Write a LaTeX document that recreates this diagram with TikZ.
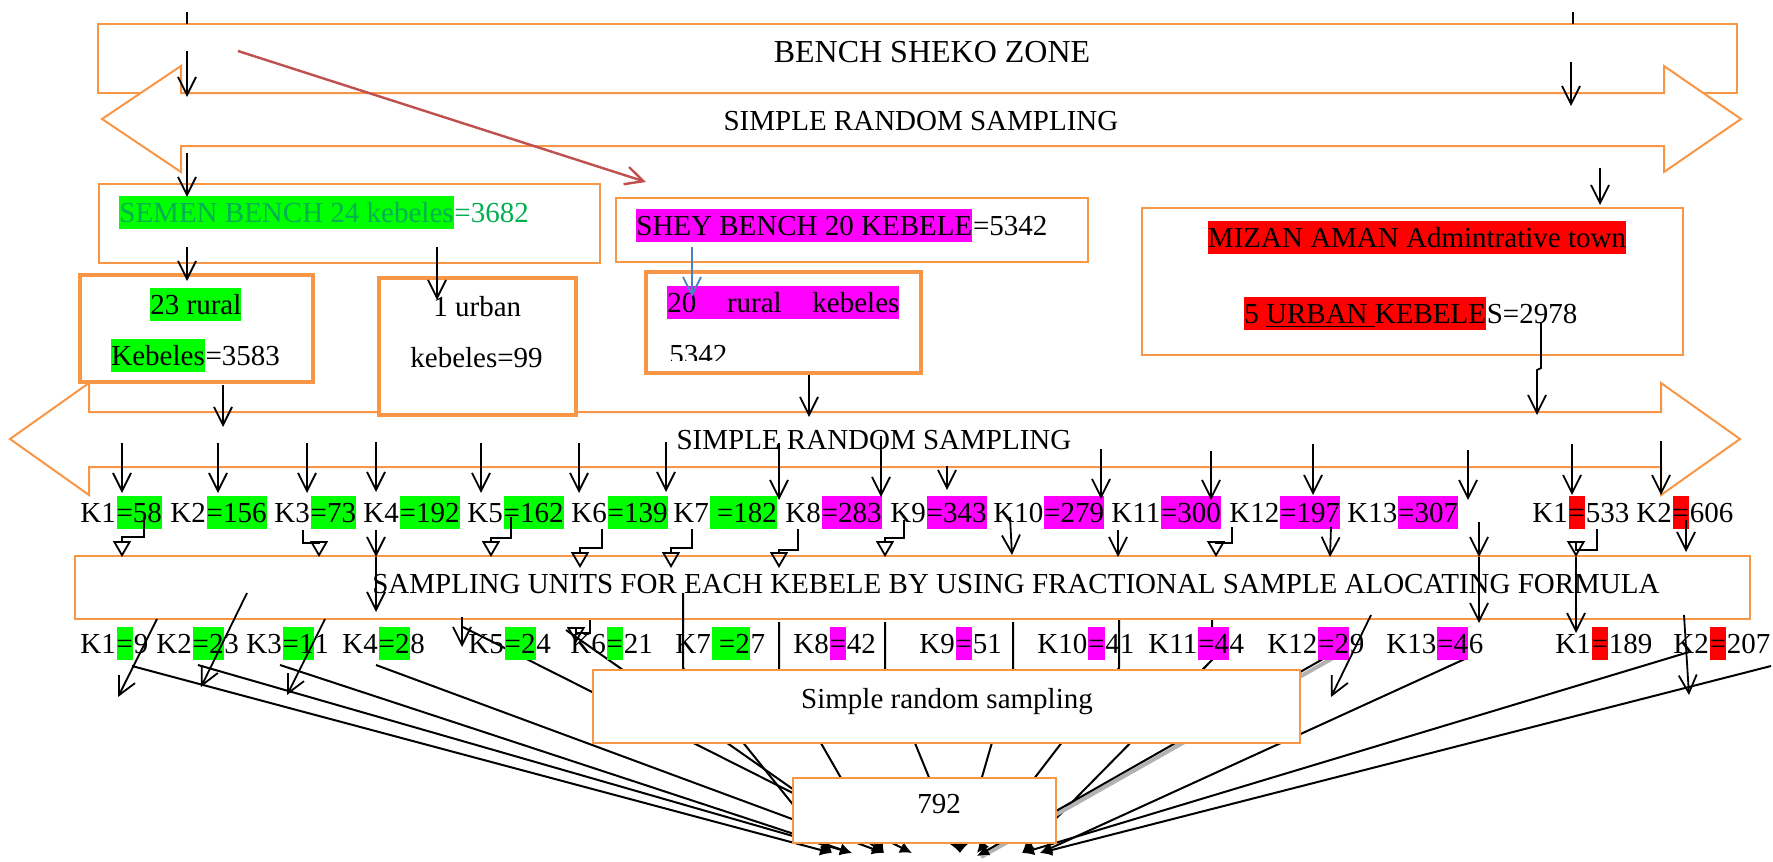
\documentclass[tikz,border=0pt]{standalone}
\usepackage{fontspec}
\setmainfont{Liberation Serif}
\usetikzlibrary{arrows.meta}

\definecolor{boxorange}{HTML}{F79646}
\definecolor{hlgreen}{HTML}{00FF00}
\definecolor{hlpink}{HTML}{FF00FF}
\definecolor{hlred}{HTML}{FF0000}
\definecolor{txtgreen}{HTML}{00B050}
\definecolor{darkred}{HTML}{C0504D}
\definecolor{steelblue}{HTML}{4F81BD}

\tikzset{
  obox/.style={draw=boxorange, line width=1pt, fill=white, inner sep=0pt},
  tbox/.style={draw=boxorange, line width=2.25pt, fill=white, inner sep=0pt},
  dbl/.style={draw=boxorange, line width=1pt, fill=white},
  txt/.style={inner sep=0pt, anchor=base west},
  hl/.style={fill=#1, inner xsep=0pt, inner ysep=0pt, text height=13pt, text depth=3.5pt, anchor=base west},
  arr/.style={-{Straight Barb[length=9pt,width=9pt]}, line width=0.9pt},
  elb/.style={-{Triangle[open,length=8pt,width=9pt]}, line width=0.9pt},
  fan/.style={-{Latex[length=6pt,width=6pt]}, line width=1pt},
}

\begin{document}
\begin{tikzpicture}[x=0.5pt, y=-0.5pt, font=\fontsize{14.5}{17}\selectfont]
    \useasboundingbox (0,0) rectangle (1773,862);

    % zone and first sampling arrow
    \node[obox, minimum width=819.5pt, minimum height=34.5pt] (zone) at (917.5,58.5) {};
    \node[txt, anchor=base, font=\fontsize{16}{19}\selectfont] (zonetext) at (932,62) {BENCH SHEKO ZONE};
    \draw[dbl] (102,119) -- (181,66) -- (181,93) -- (1664,93) -- (1664,66) -- (1741,119)
        -- (1664,172) -- (1664,146) -- (181,146) -- (181,172) -- cycle;
    \node[txt, anchor=base] (srsA) at (921,130) {SIMPLE RANDOM SAMPLING};

    % second sampling arrow
    \draw[dbl] (10,439) -- (89,383) -- (89,412) -- (1661,412) -- (1661,383) -- (1740,439)
        -- (1661,495) -- (1661,467) -- (89,467) -- (89,495) -- cycle;
    \node[txt, anchor=base] (srsB) at (874,449) {SIMPLE RANDOM SAMPLING};

    % woreda boxes
    \node[obox, minimum width=250.5pt, minimum height=39.5pt] (semen) at (349.5,223.5) {};
    \node[obox, minimum width=236pt, minimum height=32pt] (shey) at (852,230) {};
    \node[obox, minimum width=270.5pt, minimum height=73.5pt] (mizan) at (1412.5,281.5) {};
    \node[tbox, minimum width=116.5pt, minimum height=53.5pt] (rural23) at (196.5,328.5) {};
    \node[tbox, minimum width=98.5pt, minimum height=68.5pt] (urban1) at (477.5,346.5) {};
    \node[tbox, minimum width=137.5pt, minimum height=50.5pt] (rural20) at (783.5,322.5) {};

    \node[hl=hlgreen, text=txtgreen] (semenA) at (119,222) {SEMEN BENCH 24 kebeles};
    \node[txt, text=txtgreen] (semenB) at (semenA.base east) {=3682};
    \node[hl=hlpink] (sheyA) at (636,235) {SHEY BENCH 20 KEBELE};
    \node[txt] (sheyB) at (sheyA.base east) {=5342};
    \node[hl=hlred, anchor=base] (mizanA) at (1417,247) {MIZAN AMAN Admintrative town};
    \node[hl=hlred] (mizanB) at (1244,323) {5 \underline{URBAN }KEBELE};
    \node[txt] (mizanC) at (mizanB.base east) {S=2978};
    \node[hl=hlgreen] (ruralA) at (150,314) {23 rural};
    \node[hl=hlgreen] (ruralB) at (111,365) {Kebeles};
    \node[txt] (ruralC) at (ruralB.base east) {=3583};
    \node[txt] (urbanA) at (433,316) {1 urban};
    \node[txt] (urbanB) at (410,367) {kebeles=99};
    \node[hl=hlpink] (sheyrA) at (667,312) {\hbox to 116pt{20\hfill rural\hfill kebeles}};
    \begin{scope}
        \clip (640,330) rectangle (760,360);
        \node[txt] (sheyrB) at (669,364) {5342};
    \end{scope}

    \draw[line width=0.9pt] (187,12) -- (187,24);
    \draw[line width=0.9pt] (1573,12) -- (1573,24);
    \draw[arr] (187,51) -- (187,97);
    \draw[arr] (187,153) -- (187,197);
    \draw[arr] (1571,62) -- (1571,106);
    \draw[arr] (1600,168) -- (1600,205);
    \draw[arr, darkred, line width=1.2pt] (238,51) -- (646,182);
    \draw[arr] (187,247) -- (187,281);
    \draw[arr] (437,247) -- (437,300);
    \draw[arr, steelblue] (692,247) -- (692,297);
    \draw[arr] (223,385) -- (223,427);
    \draw[arr] (809,375) -- (809,417);
    \draw[arr] (1541,323) -- (1541,368) -- (1537,370) -- (1537,415);

    % kebele populations
    \foreach \x/\k/\h/\t/\c [count=\i] in {80/K1/=58//hlgreen, 170/K2/=156//hlgreen,
        274/K3/=73//hlgreen, 363/K4/=192//hlgreen, 467/K5/=162//hlgreen, 571/K6/=139//hlgreen,
        673/K7/{\hspace{.25em}=182}//hlgreen, 785/K8/=283//hlpink, 890/K9/=343//hlpink,
        993/K10/=279//hlpink, 1111/K11/=300//hlpink, 1229/K12/=197//hlpink,
        1347/K13/=307//hlpink, 1532/K1/=/533/hlred, 1636/K2/=/606/hlred}
    {
        \node[txt] (pa\i) at (\x,522) {\k};
        \node[hl=\c] (pb\i) at (pa\i.base east) {\h};
        \node[txt] (pc\i) at (pb\i.base east) {\t};
    }
    \foreach \x/\a/\b in {122/443/493, 218/443/493, 307/443/493, 376/442/492, 481/443/493,
        579/443/493, 666/442/492, 779/443/500, 881/436/497, 947/466/490, 1101/449/499,
        1211/451/500, 1313/444/495, 1468/450/500, 1572/444/495, 1661/441/495}
        \draw[arr] (\x,\a) -- (\x,\b);

    % allocation box
    \node[obox, minimum width=837.5pt, minimum height=31.5pt] (units) at (912.5,587.5) {};
    \node[txt, anchor=base] (unitstext) at (1016,593)
        {SAMPLING UNITS FOR EACH KEBELE BY USING FRACTIONAL SAMPLE ALOCATING FORMULA};

    \draw[elb] (144,517) -- (144,537) -- (122,537) -- (122,557);
    \draw[elb] (303,530) -- (303,543) -- (319,543) -- (319,557);
    \draw[elb] (511,517) -- (511,538) -- (491,538) -- (491,557);
    \draw[elb] (602,529) -- (602,548) -- (580,548) -- (580,568);
    \draw[elb] (692,529) -- (692,548) -- (671,548) -- (671,568);
    \draw[elb] (798,529) -- (798,550) -- (779,550) -- (779,568);
    \draw[elb] (904,520) -- (904,538) -- (885,538) -- (885,557);
    \draw[elb] (1232,527) -- (1232,543) -- (1216,543) -- (1216,557);
    \draw[elb] (1597,529) -- (1597,550) -- (1576,550) -- (1576,557);
    \draw[arr] (1576,557) -- (1576,633);
    \draw[arr] (376,530) -- (376,557);
    \draw[arr] (376,557) -- (376,612);
    \draw[arr] (1010,517) -- (1012,555);
    \draw[arr] (1118,530) -- (1118,557);
    \draw[arr] (1331,527) -- (1330,557);
    \draw[arr] (1479,522) -- (1479,557);
    \draw[arr] (1479,557) -- (1479,623);
    \draw[arr] (1686,520) -- (1686,552);

    % lines to the total
    \draw[fan] (132,666) -- (832,853);
    \draw[fan] (198,665) -- (852,853);
    \draw[fan] (280,665) -- (852,853);
    \draw[fan] (376,665) -- (884,853);
    \draw[fan] (463,627) -- (912,853);
    \draw[fan] (566,630) -- (884,853);
    \draw[fan] (683,593) -- (683,668) -- (832,853);
    \draw[fan] (779,622) -- (779,670) -- (884,853);
    \draw[fan] (885,622) -- (885,670) -- (960,853);
    \draw[fan] (1013,622) -- (1013,670) -- (960,853);
    \draw[fan] (1119,620) -- (1119,668) -- (977,853);
    \draw[fan] (1212,620) -- (1212,660) -- (1022,853);
    \draw[gray!60, line width=2pt] (1333,658) -- (981,857);
    \draw[fan] (1330,655) -- (977,856);
    \draw[fan] (1467,658) -- (1040,853);
    \draw[fan] (1689,652) -- (1022,853);
    \draw[fan] (1771,666) -- (1040,853);

    % sample sizes
    \foreach \x/\k/\h/\t/\c [count=\i] in {80/K1/=/9/hlgreen, 156/K2/=2/3/hlgreen,
        246/K3/=1/1/hlgreen, 342/K4/=2/8/hlgreen, 468/K5/=2/4/hlgreen, 570/K6/=/21/hlgreen,
        675/K7/{\hspace{.25em}=2}/7/hlgreen, 793/K8/=/42/hlpink, 919/K9/=/51/hlpink,
        1037/K10/=/41/hlpink, 1148/K11/=4/4/hlpink, 1267/K12/=2/9/hlpink,
        1386/K13/=4/6/hlpink, 1555/K1/=/189/hlred, 1673/K2/=/207/hlred}
    {
        \node[txt] (sa\i) at (\x,653) {\k};
        \node[hl=\c] (sb\i) at (sa\i.base east) {\h};
        \node[txt] (sc\i) at (sb\i.base east) {\t};
    }

    \draw[arr] (157,619) -- (118,697);
    \draw[arr] (247,593) -- (201,687);
    \draw[arr] (325,619) -- (287,695);
    \draw[arr] (462,617) -- (462,647);
    \draw[elb] (590,620) -- (590,633) -- (576,633) -- (576,643);
    \draw[arr] (1371,615) -- (1331,697);
    \draw[arr] (1684,615) -- (1689,695);

    % final boxes
    \node[obox, minimum width=353.5pt, minimum height=36.5pt] (srsbox) at (946.5,706.5) {};
    \node[txt, anchor=base] (srstext) at (947,708) {Simple random sampling};
    \node[obox, minimum width=131.5pt, minimum height=32.5pt] (total) at (924.5,810.5) {};
    \node[txt, anchor=base] (totaltext) at (939,813) {792};
\end{tikzpicture}
\end{document}
